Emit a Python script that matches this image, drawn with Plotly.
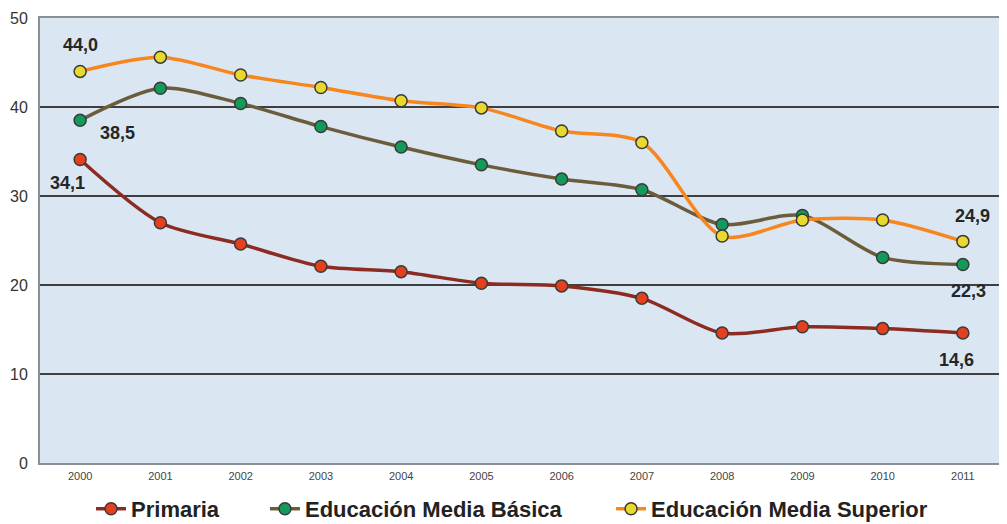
import plotly.graph_objects as go

years = [2000, 2001, 2002, 2003, 2004, 2005, 2006, 2007, 2008, 2009, 2010, 2011]
primaria = [34.1, 27.0, 24.6, 22.1, 21.5, 20.2, 19.9, 18.5, 14.6, 15.3, 15.1, 14.6]
media_basica = [38.5, 42.1, 40.4, 37.8, 35.5, 33.5, 31.9, 30.7, 26.8, 27.8, 23.1, 22.3]
media_superior = [44.0, 45.6, 43.6, 42.2, 40.7, 39.9, 37.3, 36.0, 25.5, 27.3, 27.3, 24.9]
y_ticks = [0, 10, 20, 30, 40, 50]

series = [
    ("Primaria", primaria, "#8c2b22", "#e5401d", "legend"),
    ("Educación Media Básica", media_basica, "#6b5c3c", "#13995a", "legend2"),
    ("Educación Media Superior", media_superior, "#f7861f", "#e9d92e", "legend3"),
]

fig = go.Figure()
for name, vals, lc, mc, lg in series:
    fig.add_trace(go.Scatter(
        x=years, y=vals, name=name, mode="lines+markers", legend=lg,
        line=dict(color=lc, width=3.5, shape="spline", smoothing=0.8),
        marker=dict(size=12, color=mc, line=dict(color="#3a3a3a", width=1.5)),
    ))

def fmt(v):
    return f"{v:.1f}".replace(".", ",")

label_font = dict(family="Liberation Sans, Arial, sans-serif", size=18, color="#262626")
ann = [
    (years[0], media_superior[0], 0, 26),
    (years[0], media_basica[0], 37, -13),
    (years[0], primaria[0], -13, -23),
    (years[-1], media_superior[-1], 10, 25),
    (years[-1], media_basica[-1], 6, -26),
    (years[-1], primaria[-1], -6, -27),
]
for x, y, xs, ys in ann:
    fig.add_annotation(x=x, y=y, text=f"<b>{fmt(y)}</b>", showarrow=False,
                       xshift=xs, yshift=ys, font=label_font)

legend_font = dict(family="Liberation Sans, Arial, sans-serif", size=22,
                   color="#222222", weight="bold")
legend_common = dict(orientation="h", y=-0.056, yanchor="top", xanchor="left",
                     font=legend_font, itemwidth=30, bgcolor="rgba(0,0,0,0)")

# the page body adds an 8px offset, so the figure is 8px smaller on each side
fig.update_layout(
    width=999, height=516,
    margin=dict(l=32, r=4, t=10, b=61, autoexpand=False),
    paper_bgcolor="white",
    plot_bgcolor="#dae7f3",
    showlegend=True,
    legend=dict(x=0.053, **legend_common),
    legend2=dict(x=0.2336, **legend_common),
    legend3=dict(x=0.593, **legend_common),
    font=dict(family="Liberation Sans, Arial, sans-serif"),
)
fig.update_xaxes(
    range=[1999.5, 2011.5], tickmode="array", tickvals=years,
    ticktext=[str(y) for y in years], showgrid=False, zeroline=False,
    tickfont=dict(size=11, color="#444444"), automargin=False, ticklabelstandoff=2,
    showline=True, linecolor="#8a8f96", linewidth=2, mirror=True, ticks="",
)
fig.update_yaxes(
    range=[0, 50], tickmode="array", tickvals=y_ticks,
    showgrid=True, gridcolor="#3f3f3f", gridwidth=1.5, zeroline=False,
    tickfont=dict(size=16, color="#333333"), automargin=False, ticklabelstandoff=7,
    showline=True, linecolor="#8a8f96", linewidth=2, mirror=True, ticks="",
)

fig.write_html("out.html")
